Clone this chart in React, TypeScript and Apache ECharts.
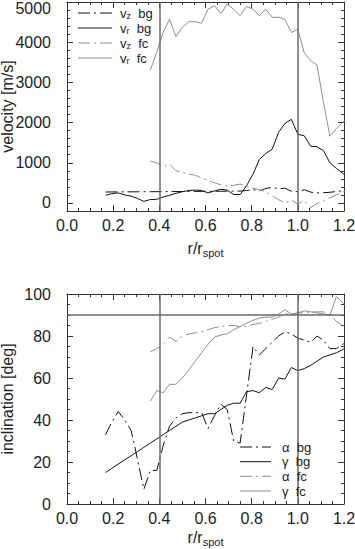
import React, { useEffect, useRef } from "react";
import * as echarts from "echarts";

// r / r_spot sample positions
const rBg = [0.167, 0.194, 0.222, 0.25, 0.278, 0.306, 0.333, 0.361, 0.389, 0.417, 0.444, 0.472, 0.5, 0.528, 0.556, 0.583, 0.611, 0.639, 0.667, 0.694, 0.722, 0.75, 0.778, 0.806, 0.833, 0.861, 0.889, 0.917, 0.944, 0.972, 1.0, 1.028, 1.056, 1.083, 1.111, 1.139, 1.167, 1.194, 1.222];
const rFc = [0.361, 0.389, 0.417, 0.444, 0.472, 0.5, 0.528, 0.556, 0.583, 0.611, 0.639, 0.667, 0.694, 0.722, 0.75, 0.778, 0.806, 0.833, 0.861, 0.889, 0.917, 0.944, 0.972, 1.0, 1.028, 1.056, 1.083, 1.111, 1.139, 1.167, 1.194, 1.222];

// velocity [m/s]
const vzBg = [272, 274, 275, 276, 277, 278, 279, 280, 281, 282, 283, 284, 285, 286, 288, 289, 290, 291, 292, 293, 294, 295, 310, 330, 300, 360, 390, 350, 370, 290, 280, 330, 270, 250, 255, 265, 285, 300, 290];
const vrBg = [190, 230, 250, 200, 170, 110, 40, 85, 90, 150, 190, 240, 280, 310, 320, 310, 250, 300, 340, 320, 210, 210, 430, 720, 1080, 1230, 1340, 1760, 1980, 2080, 1710, 1670, 1410, 1400, 1300, 1000, 860, 740, 620];
const vzFc = [1040, 1000, 900, 970, 800, 760, 720, 690, 620, 560, 500, 450, 420, 440, 470, 420, 370, 330, 270, 180, 80, 0, 70, -30, 60, -120, -10, 60, 130, 200, 270, 330];
const vrFc = [3310, 3750, 4250, 4570, 4140, 4370, 4510, 4510, 4470, 4820, 4910, 4710, 4950, 4820, 4660, 4890, 4820, 4660, 4820, 4620, 4620, 4570, 4240, 4320, 3730, 3540, 3430, 2500, 1660, 1850, 2000, 2150];

// inclination [deg]
const alphaBg = [33, 39, 44, 40, 35, 21, 7, 16, 16, 28, 37, 41, 43, 43.5, 43.5, 43.5, 36, 42, 47.5, 45, 30, 29, 52, 75, 71, 74, 77, 80, 82, 81, 79, 78, 77, 80, 78, 74, 74, 76, 78];
const gammaBg = [15, 17, 19, 21, 23, 25, 27, 29, 31, 33, 35, 37, 39, 40, 41, 42, 43, 43, 45, 47, 48, 48, 53.5, 54, 53, 55.5, 54.5, 60, 59.5, 65, 63.5, 64.5, 66, 68, 70, 71, 72, 73.5, 75.5];
const alphaFc = [72.5, 74, 76, 79.5, 77.5, 80, 81, 81.5, 82, 83, 84, 84.5, 85, 85, 84.5, 84.5, 85.5, 86, 87, 88, 89, 91, 90, 91, 91, 91.5, 91.5, 91.5, 90, 87, 85, 86];
const gammaFc = [49, 54, 53, 57, 57, 60, 64, 68, 72, 76, 79.5, 80.5, 81, 83, 84.5, 86, 87.5, 88.5, 89, 89, 90.5, 92.5, 90.5, 91, 92, 91.5, 91, 90.5, 90, 98.7, 96, 93];

// tick labels
const velTicks = [0, 1000, 2000, 3000, 4000, 5000];
const refR = [0.4, 1.0];
const refIncl = [90];

const FONT = "Liberation Sans";
const TXT = "#222";
const AX = "#333";
const BLACK = "#111";
const GRAY = "#8e8e8e";
const VLINE = "#6a6a6a";
const DASHDOT = [12, 4, 2, 4];

const pairs = (xs: number[], ys: number[]) => xs.map((x, i) => [x, ys[i]]);

const subRich = {
  a: { fontSize: 16, fontFamily: FONT, color: TXT },
  s: { fontSize: 11, fontFamily: FONT, color: TXT, padding: [9, 0, 0, 0] },
};

const mkX = (grid: number, pos: string, labels: boolean, gap: number) => ({
  type: "value",
  gridIndex: grid,
  position: pos,
  min: 0,
  max: 1.2,
  interval: 0.2,
  axisLine: { show: true, onZero: false, lineStyle: { color: AX, width: 1 } },
  axisTick: { show: true, inside: true, length: 6, lineStyle: { color: AX } },
  minorTick: { show: true, splitNumber: 4, length: 3, lineStyle: { color: AX } },
  splitLine: { show: false },
  axisLabel: labels
    ? { show: true, margin: 6, fontSize: 16, fontFamily: FONT, color: TXT, formatter: (v: number) => v.toFixed(1) }
    : { show: false },
  name: labels ? "{a|r/r}{s|spot}" : "",
  nameLocation: "middle",
  nameGap: gap,
  nameMoveOverlap: false,
  nameTextStyle: { rich: subRich },
});

const mkYTop = (pos: string, major: boolean, labels: boolean) => ({
  type: "value",
  gridIndex: 0,
  position: pos,
  min: -200,
  max: 5000,
  interval: 200,
  axisLine: { show: !major, onZero: false, lineStyle: { color: AX, width: 1 } },
  axisTick: major
    ? { show: true, inside: true, length: 6, customValues: velTicks, lineStyle: { color: AX } }
    : { show: true, inside: true, length: 3, lineStyle: { color: AX } },
  splitLine: { show: false },
  axisLabel: labels
    ? {
        show: true,
        customValues: velTicks,
        margin: 16,
        fontSize: 16,
        fontFamily: FONT,
        color: TXT,
        formatter: (v: number) => (v === 5000 ? "{t|" + v + "}" : String(v)),
        rich: { t: { fontSize: 16, fontFamily: FONT, color: TXT, padding: [12, 0, 0, 0] } },
      }
    : { show: false },
  name: labels ? "velocity [m/s]" : "",
  nameLocation: "middle",
  nameGap: 52,
  nameMoveOverlap: false,
  nameTextStyle: { fontSize: 16, fontFamily: FONT, color: TXT },
});

const mkYBot = (pos: string, labels: boolean) => ({
  type: "value",
  gridIndex: 1,
  position: pos,
  min: 0,
  max: 100,
  interval: 20,
  axisLine: { show: true, onZero: false, lineStyle: { color: AX, width: 1 } },
  axisTick: { show: true, inside: true, length: 6, lineStyle: { color: AX } },
  minorTick: { show: true, splitNumber: 4, length: 3, lineStyle: { color: AX } },
  splitLine: { show: false },
  axisLabel: labels
    ? { show: true, margin: 16, fontSize: 16, fontFamily: FONT, color: TXT, formatter: (v: number) => String(v) }
    : { show: false },
  name: labels ? "inclination [deg]" : "",
  nameLocation: "middle",
  nameGap: 52,
  nameMoveOverlap: false,
  nameTextStyle: { fontSize: 16, fontFamily: FONT, color: TXT },
});

const line = (name: string, x: number, y: number, xs: number[], ys: number[], color: string, dash: any, extra: any = {}) => ({
  name,
  type: "line",
  xAxisIndex: x,
  yAxisIndex: y,
  data: pairs(xs, ys),
  symbol: "none",
  clip: true,
  silent: true,
  lineStyle: { color, width: 1, type: dash },
  z: 3,
  ...extra,
});

const refMark = (vs: number[], hs: number[]) => ({
  markLine: {
    silent: true,
    symbol: "none",
    label: { show: false },
    lineStyle: { color: VLINE, width: 1.5, type: "solid" },
    data: [...vs.map((v) => ({ xAxis: v })), ...hs.map((h) => ({ yAxis: h }))],
  },
});

const legendRow = (x1: number, x2: number, y: number, color: string, dash: any, tx: number, text: string, rich: any, fs: number) => [
  { type: "line", shape: { x1, y1: y, x2, y2: y }, style: { stroke: color, lineWidth: 1, lineDash: dash }, z: 10 },
  {
    type: "text",
    x: tx,
    y,
    z: 10,
    style: { text, rich, fill: TXT, fontSize: fs, lineHeight: 12, fontFamily: FONT, verticalAlign: "middle", align: "left" },
  },
];

const legRich = {
  a: { fontSize: 13, lineHeight: 12, fontFamily: FONT, color: TXT },
  s: { fontSize: 9, lineHeight: 8, fontFamily: FONT, color: TXT, padding: [6, 0, 0, 0] },
};
const legRichSmall = {
  a: { fontSize: 13, lineHeight: 12, fontFamily: FONT, color: TXT },
};

export default function App() {
  const ref = useRef<HTMLDivElement>(null);
  useEffect(() => {
    const chart = echarts.init(ref.current!, null, { renderer: "svg" });
    const option: any = {
      animation: false,
      backgroundColor: "#fff",
      grid: [
        { left: 67, top: 2, width: 277, height: 209, containLabel: false, outerBoundsMode: "none" },
        { left: 67, top: 294, width: 277, height: 210, containLabel: false, outerBoundsMode: "none" },
      ],
      xAxis: [mkX(0, "bottom", true, 27), mkX(0, "top", false, 0), mkX(1, "bottom", true, 23), mkX(1, "top", false, 0)],
      yAxis: [
        mkYTop("left", false, true),
        mkYTop("left", true, false),
        mkYTop("right", false, false),
        mkYTop("right", true, false),
        mkYBot("left", true),
        mkYBot("right", false),
      ],
      series: [
        line("vz bg", 0, 0, rBg, vzBg, BLACK, DASHDOT),
        line("vr bg", 0, 0, rBg, vrBg, BLACK, "solid", refMark(refR, [])),
        line("vz fc", 0, 0, rFc, vzFc, GRAY, DASHDOT),
        line("vr fc", 0, 0, rFc, vrFc, GRAY, "solid"),
        line("alpha bg", 2, 4, rBg, alphaBg, BLACK, DASHDOT),
        line("gamma bg", 2, 4, rBg, gammaBg, BLACK, "solid", refMark(refR, refIncl)),
        line("alpha fc", 2, 4, rFc, alphaFc, GRAY, DASHDOT),
        line("gamma fc", 2, 4, rFc, gammaFc, GRAY, "solid"),
      ],
      graphic: [
        ...legendRow(78, 112, 13, BLACK, DASHDOT, 120, "{a|v}{s|z}{a|  bg}", legRich, 13),
        ...legendRow(78, 112, 28, BLACK, null, 120, "{a|v}{s|r}{a|  bg}", legRich, 13),
        ...legendRow(78, 112, 43, GRAY, DASHDOT, 120, "{a|v}{s|z}{a|  fc}", legRich, 13),
        ...legendRow(78, 112, 58, GRAY, null, 120, "{a|v}{s|r}{a|  fc}", legRich, 13),
        ...legendRow(240, 271, 447, BLACK, DASHDOT, 282, "{a|α  bg}", legRichSmall, 13),
        ...legendRow(240, 271, 461.7, BLACK, null, 282, "{a|γ  bg}", legRichSmall, 13),
        ...legendRow(240, 271, 476.3, GRAY, DASHDOT, 282, "{a|α  fc}", legRichSmall, 13),
        ...legendRow(240, 271, 491, GRAY, null, 282, "{a|γ  fc}", legRichSmall, 13),
      ],
    };
    chart.setOption(option);
    return () => chart.dispose();
  }, []);
  return <div ref={ref} style={{ position: "absolute", left: 0, top: 0, width: 355, height: 549 }} />;
}
